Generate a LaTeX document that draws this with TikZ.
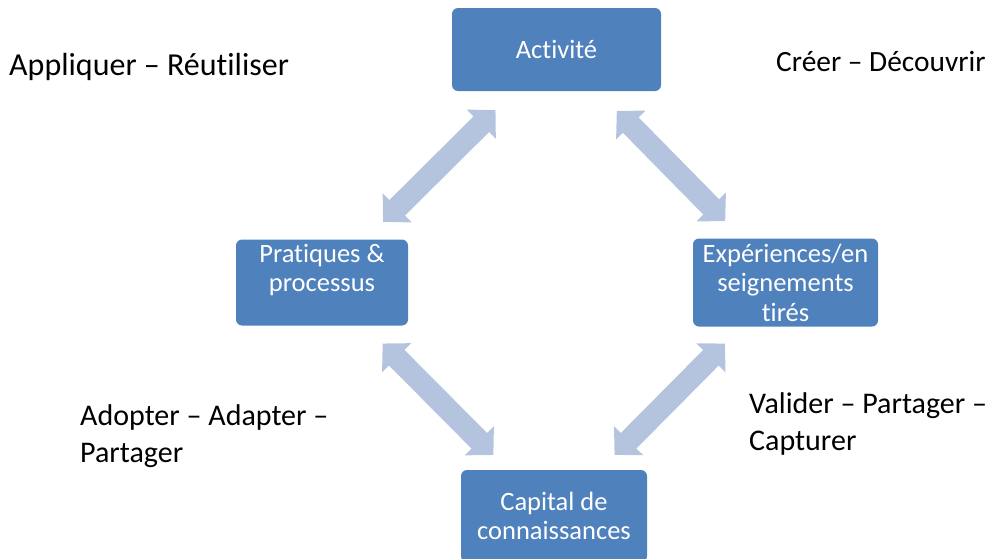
\documentclass[tikz,border=0pt]{standalone}
\usepackage{fontspec}
\setmainfont{Carlito}[Ligatures=NoCommon]
\usetikzlibrary{arrows.meta}
\definecolor{boxblue}{HTML}{4F81BD}
\definecolor{arrowblue}{HTML}{B4C4DF}
\tikzset{
  box/.style={fill=boxblue, rounded corners=6pt, inner sep=0pt, text=white, align=center,
    font=\fontsize{26.5}{29.5}\selectfont},
  link/.style={arrowblue, line width=22pt, shorten <=86pt, shorten >=86pt,
    {Triangle[width=40pt,length=20pt]}-{Triangle[width=40pt,length=20pt]}},
  lbl/.style={inner sep=0pt, align=left, font=\fontsize{30}{37}\selectfont}
}
\begin{document}
\begin{tikzpicture}[x=1pt,y=-1pt]
\useasboundingbox (0,0) rectangle (989,558);
% boxes
\node[box, minimum width=209pt, minimum height=83pt] (act) at (556.5,49.5) {Activit\'e};
\node[box, minimum width=172pt, minimum height=86pt] (prat) at (322,282.5) {Pratiques \&\\processus\\\mbox{}};
\node[box, minimum width=185pt, minimum height=88pt] (exp) at (785.5,282.5) {Exp\'eriences/en\\seignements\\tir\'es};
\node[box, minimum width=186pt, minimum height=92pt] (cap) at (554,516) {Capital de\\connaissances};
% arrows
\draw[link] (prat.center) -- (act.center);
\draw[link] (act.center) -- (exp.center);
\draw[link] (prat.center) -- (cap.center);
\draw[link] (exp.center) -- (cap.center);
% labels
\node[lbl, anchor=base west, font=\fontsize{32}{38}\selectfont] (appl) at (9,75) {Appliquer – Réutiliser};
\node[lbl, anchor=base west, font=\fontsize{29.4}{36}\selectfont] (creer) at (776,71) {Créer – Découvrir};
\node[lbl, anchor=north west] (adopt) at (80,404) {Adopter – Adapter –\\Partager};
\node[lbl, anchor=north west] (valid) at (749,392) {Valider – Partager –\\Capturer};
\end{tikzpicture}
\end{document}
